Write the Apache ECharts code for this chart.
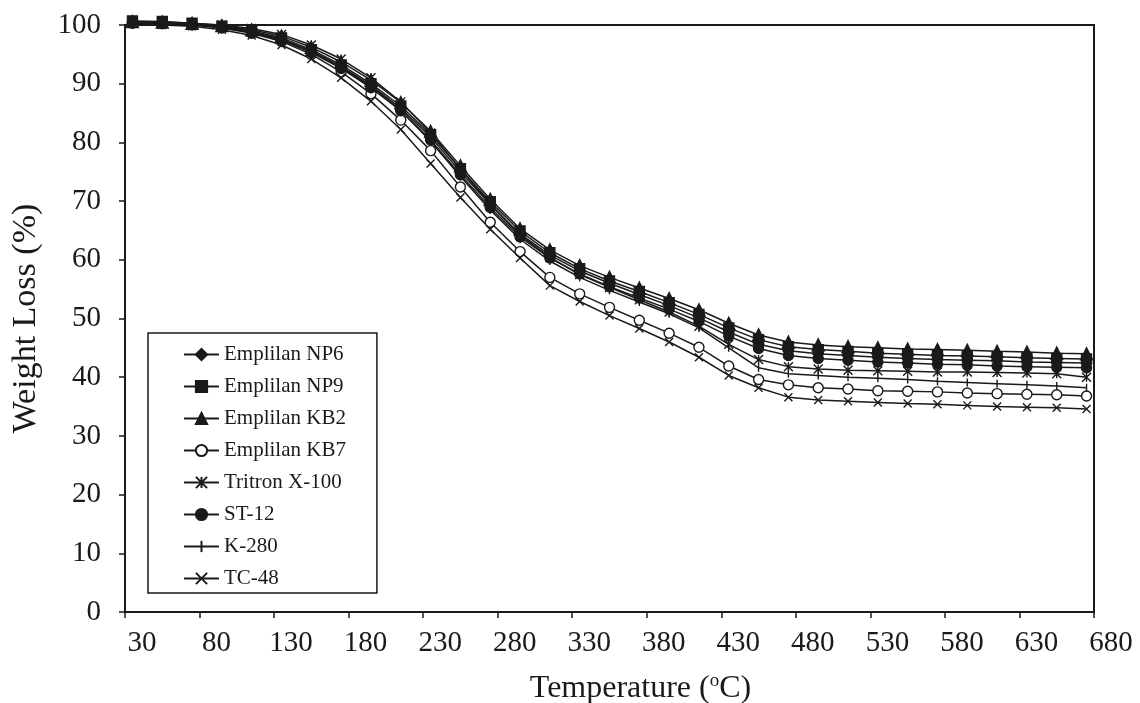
<!DOCTYPE html>
<html>
<head>
<meta charset="utf-8">
<script src="https://cdn.jsdelivr.net/npm/echarts@6/dist/echarts.min.js"></script>
<style>
  html, body { margin: 0; padding: 0; background: #fff; }
  #chart { width: 1140px; height: 703px; }
</style>
</head>
<body>
<div id="chart"></div>
<script>
// temperature (oC) of each reading
const temps = [35, 55, 75, 95, 115, 135, 155, 175, 195, 215, 235, 255, 275, 295, 315, 335, 355,
  375, 395, 415, 435, 455, 475, 495, 515, 535, 555, 575, 595, 615, 635, 655, 675];

// weight (%)
const np6 = [100.5, 100.4, 100.2, 99.7, 98.9, 97.6, 95.6, 92.9, 89.7, 85.8, 80.9, 75.0, 69.4, 64.4, 60.8, 58.1, 56.0,
  54.1, 52.2, 50.1, 47.7, 45.6, 44.5, 44.0, 43.7, 43.4, 43.2, 43.0, 42.9, 42.8, 42.6, 42.5, 42.4];
const np9 = [100.7, 100.6, 100.3, 99.8, 99.0, 97.8, 95.8, 93.2, 90.0, 86.2, 81.3, 75.5, 69.9, 64.9, 61.2, 58.5, 56.4,
  54.6, 52.7, 50.7, 48.4, 46.4, 45.2, 44.7, 44.4, 44.1, 43.9, 43.7, 43.6, 43.5, 43.3, 43.2, 43.1];
const kb2 = [100.6, 100.5, 100.3, 99.9, 99.2, 98.1, 96.2, 93.7, 90.6, 86.8, 81.9, 76.0, 70.3, 65.3, 61.7, 59.0, 57.0,
  55.2, 53.4, 51.5, 49.2, 47.2, 46.0, 45.5, 45.2, 45.0, 44.8, 44.7, 44.6, 44.4, 44.3, 44.1, 44.0];
const kb7 = [100.3, 100.2, 100.0, 99.5, 98.6, 97.2, 95.0, 92.0, 88.3, 83.8, 78.6, 72.4, 66.4, 61.4, 57.0, 54.2, 51.9,
  49.7, 47.5, 45.1, 41.9, 39.6, 38.7, 38.2, 38.0, 37.7, 37.6, 37.5, 37.3, 37.2, 37.1, 37.0, 36.8];
const tritron = [100.5, 100.4, 100.3, 100.0, 99.4, 98.4, 96.6, 94.2, 91.0, 86.9, 81.6, 75.5, 69.5, 64.2, 60.4, 57.5, 55.3,
  53.2, 51.1, 48.7, 45.6, 43.0, 41.8, 41.4, 41.2, 41.1, 41.0, 40.9, 40.9, 40.8, 40.7, 40.6, 40.0];
const st12 = [100.4, 100.3, 100.1, 99.6, 98.7, 97.4, 95.3, 92.6, 89.3, 85.4, 80.4, 74.5, 68.9, 63.9, 60.3, 57.6, 55.4,
  53.5, 51.6, 49.5, 47.0, 44.9, 43.7, 43.2, 42.9, 42.6, 42.4, 42.2, 42.1, 41.9, 41.8, 41.7, 41.6];
const k280 = [100.4, 100.3, 100.1, 99.6, 98.8, 97.5, 95.5, 92.8, 89.5, 85.4, 80.2, 74.2, 68.5, 63.5, 59.8, 57.0, 54.8,
  52.8, 50.8, 48.4, 45.0, 41.6, 40.6, 40.3, 40.0, 39.8, 39.6, 39.3, 39.1, 38.9, 38.7, 38.5, 38.2];
const tc48 = [100.2, 100.0, 99.8, 99.2, 98.2, 96.6, 94.2, 91.0, 87.0, 82.2, 76.4, 70.6, 65.2, 60.3, 55.6, 52.9, 50.5,
  48.3, 46.0, 43.4, 40.3, 38.2, 36.6, 36.1, 35.9, 35.7, 35.5, 35.4, 35.2, 35.0, 34.9, 34.8, 34.6];

const names = ["Emplilan NP6", "Emplilan NP9", "Emplilan KB2", "Emplilan KB7", "Tritron X-100", "ST-12", "K-280", "TC-48"];
const values = [np6, np9, kb2, kb7, tritron, st12, k280, tc48];

const ink = "#1a1a1a";
const serif = "'Liberation Serif', 'DejaVu Serif', serif";

// open paths have no area, so only their stroke shows.
// the K-280 tick gets two empty end points so its box is not zero wide
const markers = [
  { symbol: "diamond", size: 10, fill: ink },
  { symbol: "rect", size: 10, fill: ink },
  { symbol: "triangle", size: 12, fill: ink },
  { symbol: "circle", size: 10, fill: "#fff" },
  { symbol: "path://M0,0 L10,10 M10,0 L0,10 M5,0 L5,10", size: 9, fill: ink },
  { symbol: "circle", size: 10, fill: ink },
  { symbol: "path://M5,0 L5,10 M0,5 L0,5 M10,5 L10,5", size: 8, fill: ink },
  { symbol: "path://M0,0 L10,10 M10,0 L0,10", size: 8, fill: ink },
];

const series = names.map((name, i) => ({
  name: name,
  type: "line",
  data: temps.map((t, j) => [t, values[i][j]]),
  symbol: markers[i].symbol,
  symbolSize: markers[i].size,
  showAllSymbol: true,
  clip: false,
  lineStyle: { color: ink, width: 1.5 },
  itemStyle: { color: markers[i].fill, borderColor: ink, borderWidth: 1.4 },
  emphasis: { disabled: true },
}));

const chart = echarts.init(document.getElementById("chart"));
chart.setOption({
  backgroundColor: "#fff",
  animation: false,
  grid: {
    left: 125,
    right: 46,
    top: 25,
    bottom: 91,
    outerBoundsMode: "none",
    show: true,
    borderColor: ink,
    borderWidth: 2,
  },
  legend: {
    orient: "vertical",
    left: 148,
    top: 333,
    padding: [11, 31, 4, 35],
    itemWidth: 35,
    itemHeight: 14,
    itemGap: 11,
    borderColor: ink,
    borderWidth: 1.5,
    data: names,
    textStyle: {
      fontFamily: serif,
      fontSize: 21,
      color: ink,
    },
  },
  xAxis: {
    type: "value",
    min: 30,
    max: 680,
    interval: 50,
    name: "Temperature ({sup|o}C)",
    nameLocation: "middle",
    nameGap: 60,
    nameTextStyle: {
      fontFamily: serif,
      fontSize: 32,
      color: ink,
      padding: [0, 0, 0, 62],
      rich: {
        sup: { fontFamily: serif, fontSize: 19, color: ink, verticalAlign: "top", padding: [0, 0, 14, 0] },
      },
    },
    axisLine: { lineStyle: { color: ink, width: 2 } },
    axisTick: { show: true, length: 6, lineStyle: { color: ink, width: 1.5 } },
    axisLabel: {
      fontFamily: serif,
      fontSize: 29,
      color: ink,
      margin: 17,
      padding: [0, 0, 0, 34],
      showMinLabel: true,
      showMaxLabel: true,
    },
    splitLine: { show: false },
  },
  yAxis: {
    type: "value",
    min: 0,
    max: 100,
    interval: 10,
    name: "Weight Loss (%)",
    nameLocation: "middle",
    nameGap: 82,
    nameTextStyle: { fontFamily: serif, fontSize: 34, color: ink },
    axisLine: { show: true, lineStyle: { color: ink, width: 2 } },
    axisTick: { show: true, length: 6, lineStyle: { color: ink, width: 1.5 } },
    axisLabel: { fontFamily: serif, fontSize: 29, color: ink, margin: 24 },
    splitLine: { show: false },
  },
  series: series,
});
</script>
</body>
</html>
